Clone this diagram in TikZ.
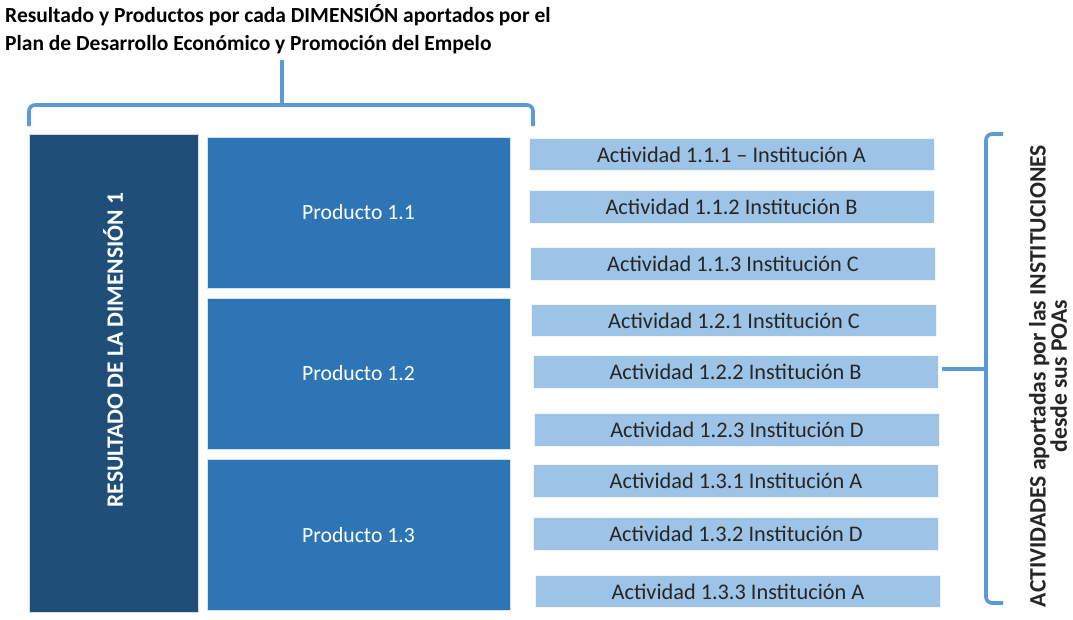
\documentclass[tikz,border=0pt]{standalone}
\usepackage{fontspec}
\setmainfont{Carlito}
\definecolor{dimblue}{HTML}{1F4E79}
\definecolor{prodblue}{HTML}{2E75B6}
\definecolor{actblue}{HTML}{9DC3E6}
\definecolor{braceblue}{HTML}{5B9BD5}
\definecolor{txtdark}{HTML}{262626}
\begin{document}
\begin{tikzpicture}[x=1pt,y=-1pt,
  dimbox/.style={fill=dimblue,draw=white!80!dimblue,line width=0.8pt,inner sep=0pt},
  prodbox/.style={fill=prodblue,draw=white!80!prodblue,line width=0.8pt,inner sep=0pt,
    minimum width=303pt,minimum height=151pt,text=white,font=\fontsize{21.7}{26}\selectfont},
  actbox/.style={fill=actblue,draw=white!85!actblue,line width=0.6pt,inner sep=0pt,
    minimum width=405pt,minimum height=32.5pt,text=txtdark,font=\fontsize{22.3}{26}\selectfont},
  bracel/.style={draw=braceblue,line width=3.6pt,rounded corners=6pt},
  titletxt/.style={inner sep=0pt,anchor=base west,text=black,font=\fontsize{21.5}{26}\selectfont\bfseries},
  lbl/.style={inner sep=0pt}]
\useasboundingbox (0,0) rectangle (1073,619);
% title
\node[titletxt] (title1) at (5,22) {Resultado y Productos por cada DIMENSIÓN aportados por el};
\node[titletxt] (title2) at (5,50) {Plan de Desarrollo Económico y Promoción del Empelo};
% dimension box
\node[dimbox,minimum width=169pt,minimum height=478pt] (dim) at (113.5,373) {};
\node[lbl,rotate=90,text=white,font=\fontsize{23.5}{26}\selectfont\bfseries] (dimtxt) at (113,350) {RESULTADO DE LA DIMENSIÓN 1};
% products
\node[prodbox] (p11) at (358.5,212.5) {Producto 1.1};
\node[prodbox] (p12) at (358.5,373.5) {Producto 1.2};
\node[prodbox] (p13) at (358.5,535) {Producto 1.3};
% activities
\node[actbox] (a111) at (731.5,154.5) {Actividad 1.1.1 – Institución A};
\node[actbox] (a112) at (731.5,207) {Actividad 1.1.2 Institución B};
\node[actbox] (a113) at (733,264) {Actividad 1.1.3 Institución C};
\node[actbox] (a121) at (734,320.5) {Actividad 1.2.1 Institución C};
\node[actbox] (a122) at (735.5,372) {Actividad 1.2.2 Institución B};
\node[actbox] (a123) at (737,430) {Actividad 1.2.3 Institución D};
\node[actbox] (a131) at (736,481) {Actividad 1.3.1 Institución A};
\node[actbox] (a132) at (736,534) {Actividad 1.3.2 Institución D};
\node[actbox] (a133) at (738,591.5) {Actividad 1.3.3 Institución A};
% top brace
\coordinate (tbl) at (29,126);
\coordinate (tbr) at (533,126);
\coordinate (tbm) at (282,105);
\coordinate (tbs) at (282,60);
\draw[bracel] (tbl) -- (29,105) -- (533,105) -- (tbr);
\draw[bracel] (tbm) -- (tbs);
% right brace
\coordinate (rbt) at (1003,134);
\coordinate (rbb) at (1003,603);
\coordinate (rbm) at (986,369);
\draw[bracel] (rbt) -- (986,134) -- (986,603) -- (rbb);
\draw[bracel] (rbm) -- ([xshift=4pt]a122.east |- rbm);
% right label
\node[lbl,rotate=90,align=center,text=txtdark,font=\fontsize{23.6}{19}\selectfont\bfseries] (acttxt) at (1048,376)
  {ACTIVIDADES aportadas por las INSTITUCIONES\\desde sus POAs};
\end{tikzpicture}
\end{document}
